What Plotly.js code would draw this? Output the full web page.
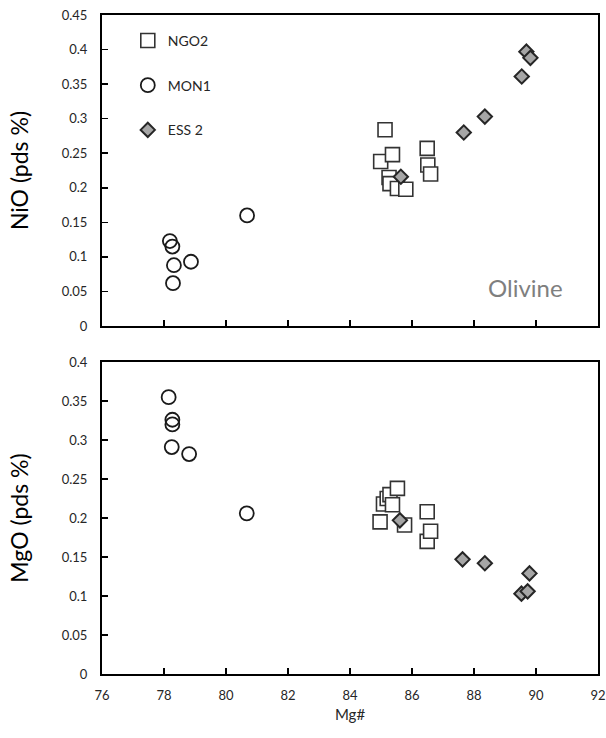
<!DOCTYPE html>
<html>
<head>
<meta charset="utf-8">
<script src="https://cdn.plot.ly/plotly-3.0.1.min.js"></script>
<style>html,body{margin:0;padding:0;background:#fff;}#chart{width:606px;height:738px;}</style>
</head>
<body>
<div id="chart"></div>
<script>
// ---- Data ----
// NiO panel (top)
const ngo2_mg_ni = [84.99, 85.13, 85.26, 85.29, 85.37, 85.53, 85.80, 86.49, 86.51, 86.60];
const ngo2_ni    = [0.238, 0.284, 0.215, 0.206, 0.248, 0.199, 0.198, 0.257, 0.233, 0.220];
const mon1_mg_ni = [78.19, 78.27, 78.32, 78.29, 78.87, 80.68];
const mon1_ni    = [0.123, 0.115, 0.088, 0.062, 0.093, 0.160];
const ess2_mg_ni = [85.64, 87.67, 88.35, 89.54, 89.69, 89.82];
const ess2_ni    = [0.216, 0.280, 0.303, 0.361, 0.397, 0.388];

// MgO panel (bottom)
const ngo2_mg_mg = [84.97, 85.08, 85.20, 85.29, 85.37, 85.53, 85.76, 86.49, 86.49, 86.60];
const ngo2_mgo   = [0.195, 0.218, 0.225, 0.230, 0.217, 0.238, 0.191, 0.208, 0.170, 0.183];
const mon1_mg_mg = [78.15, 78.27, 78.27, 78.25, 78.81, 80.67];
const mon1_mgo   = [0.355, 0.326, 0.320, 0.291, 0.282, 0.206];
const ess2_mg_mg = [85.61, 87.63, 88.35, 89.53, 89.73, 89.79];
const ess2_mgo   = [0.197, 0.147, 0.142, 0.103, 0.106, 0.129];

const seriesNames = ['NGO2', 'MON1', 'ESS 2'];
const xTicks = [76, 78, 80, 82, 84, 86, 88, 90, 92];
const niTicks = [0, 0.05, 0.1, 0.15, 0.2, 0.25, 0.3, 0.35, 0.4, 0.45];
const mgoTicks = [0, 0.05, 0.1, 0.15, 0.2, 0.25, 0.3, 0.35, 0.4];

// ---- Styles ----
const FONT = 'Lato, "Open Sans", sans-serif';
const sqMarker = {symbol: 'square', size: 14, color: '#ffffff', line: {color: '#333333', width: 1.6}};
const ciMarker = {symbol: 'circle-open', size: 14, color: '#1a1a1a', line: {color: '#1a1a1a', width: 1.8}};
const diMarker = {symbol: 'diamond', size: 11, color: '#a6a6a6', line: {color: '#262626', width: 2}};

const traces = [
  {x: ngo2_mg_ni, y: ngo2_ni, xaxis: 'x2', yaxis: 'y2', mode: 'markers', type: 'scatter',
   name: seriesNames[0], legendgroup: 'a', marker: sqMarker},
  {x: mon1_mg_ni, y: mon1_ni, xaxis: 'x2', yaxis: 'y2', mode: 'markers', type: 'scatter',
   name: seriesNames[1], legendgroup: 'b', marker: ciMarker},
  {x: ess2_mg_ni, y: ess2_ni, xaxis: 'x2', yaxis: 'y2', mode: 'markers', type: 'scatter',
   name: seriesNames[2], legendgroup: 'c', marker: diMarker},
  {x: ngo2_mg_mg, y: ngo2_mgo, xaxis: 'x', yaxis: 'y', mode: 'markers', type: 'scatter',
   name: seriesNames[0], showlegend: false, marker: sqMarker},
  {x: mon1_mg_mg, y: mon1_mgo, xaxis: 'x', yaxis: 'y', mode: 'markers', type: 'scatter',
   name: seriesNames[1], showlegend: false, marker: ciMarker},
  {x: ess2_mg_mg, y: ess2_mgo, xaxis: 'x', yaxis: 'y', mode: 'markers', type: 'scatter',
   name: seriesNames[2], showlegend: false, marker: diMarker}
];

const axisCommon = {
  showline: true, linecolor: '#000', linewidth: 2, mirror: true,
  ticks: 'inside', ticklen: 6, tickwidth: 1.5, tickcolor: '#000',
  showgrid: false, zeroline: false, ticklabeloverflow: 'allow',
  tickfont: {family: FONT, size: 13, color: '#262626'}
};

const layout = {
  width: 606, height: 738,
  paper_bgcolor: '#fff', plot_bgcolor: '#fff',
  margin: {l: 102, r: 8, t: 15, b: 64},
  font: {family: FONT, color: '#262626'},
  showlegend: true,
  legend: {
    x: 0.052, y: 0.985, xanchor: 'left', yanchor: 'top',
    bgcolor: 'rgba(0,0,0,0)', borderwidth: 0,
    font: {family: FONT, size: 14, color: '#262626'},
    traceorder: 'grouped', tracegroupgap: 23.5
  },
  xaxis: Object.assign({}, axisCommon, {
    domain: [0, 1], anchor: 'y', range: [76, 92], tickmode: 'array', tickvals: xTicks,
    ticklabelstandoff: 8,
    title: {text: 'Mg#', font: {family: FONT, size: 15, color: '#262626'}, standoff: 8}
  }),
  yaxis: Object.assign({}, axisCommon, {
    domain: [0, 0.4734], anchor: 'x', range: [0, 0.4], tickmode: 'array', tickvals: mgoTicks,
    ticktext: mgoTicks.map(String), ticklabelstandoff: 10,
    title: {text: 'MgO (pds %)', font: {family: FONT, size: 23, color: '#000'}, standoff: 27}
  }),
  xaxis2: Object.assign({}, axisCommon, {
    domain: [0, 1], anchor: 'y2', range: [76, 92], tickmode: 'array', tickvals: xTicks,
    showticklabels: false
  }),
  yaxis2: Object.assign({}, axisCommon, {
    domain: [0.528, 1], anchor: 'x2', range: [0, 0.45], tickmode: 'array', tickvals: niTicks,
    ticktext: niTicks.map(String), ticklabelstandoff: 10,
    title: {text: 'NiO (pds %)', font: {family: FONT, size: 23, color: '#000'}, standoff: 27}
  }),
  annotations: [
    {text: 'Olivine', xref: 'x2 domain', yref: 'y2 domain', x: 0.853, y: 0.125,
     xanchor: 'center', yanchor: 'middle', showarrow: false,
     font: {family: FONT, size: 24, color: '#7f7f7f'}}
  ]
};

Plotly.newPlot('chart', traces, layout, {displayModeBar: false, staticPlot: true});
</script>
</body>
</html>
